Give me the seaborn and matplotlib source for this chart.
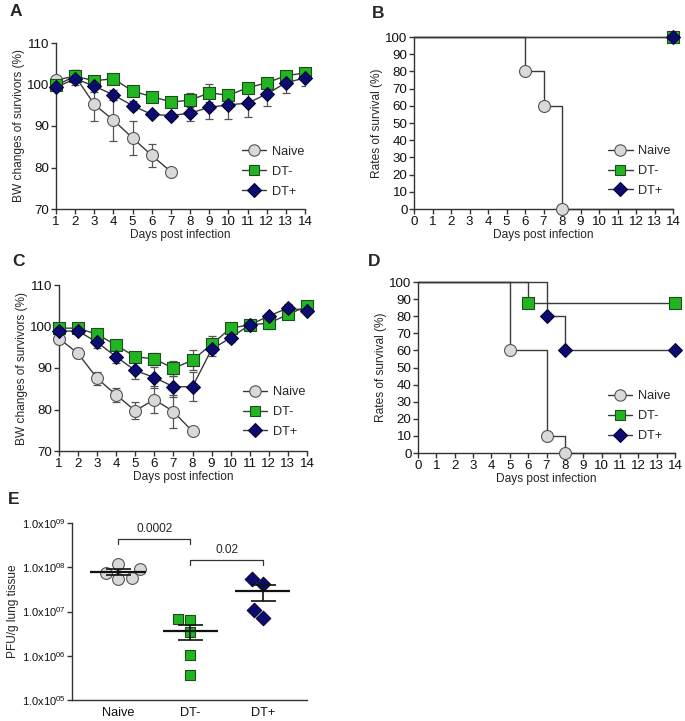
import numpy as np
import pandas as pd
import matplotlib
matplotlib.use("Agg")
import matplotlib.pyplot as plt
from matplotlib.lines import Line2D
import seaborn as sns

# ---------------- data ----------------
groups = ["Naive", "DT-", "DT+"]

# Panel A: body weight (%) of survivors
days_A_naive = [1, 2, 3, 4, 5, 6, 7]
bw_A_naive = [101.1, 102.0, 95.2, 91.4, 87.1, 82.9, 79.0]
err_A_naive = [0.8, 1.5, 3.9, 4.9, 4.1, 2.7, 0.8]
days_A = list(range(1, 15))
bw_A_dtm = [99.8, 102.0, 100.9, 101.4, 98.4, 97.1, 95.8, 96.2, 98.0, 97.4, 99.2, 100.4, 102.1, 102.8]
err_A_dtm = [0.8, 1.5, 0.6, 0.6, 0.8, 1.2, 0.6, 1.7, 2.1, 1.0, 0.6, 0.6, 1.0, 0.8]
bw_A_dtp = [99.3, 101.4, 99.6, 97.5, 94.9, 92.8, 92.5, 93.1, 94.5, 95.1, 95.5, 97.7, 100.4, 101.6]
err_A_dtp = [0.6, 1.5, 1.4, 1.2, 1.1, 0.5, 0.5, 1.8, 2.8, 3.4, 3.3, 3.0, 2.4, 2.0]

# Panel C: body weight (%) of survivors
days_C_naive = [1, 2, 3, 4, 5, 6, 7, 8]
bw_C_naive = [97.1, 93.5, 87.5, 83.5, 79.7, 82.4, 79.5, 74.7]
err_C_naive = [0.6, 1.2, 1.6, 1.6, 2.0, 3.3, 4.0, 0.0]
days_C = list(range(1, 15))
bw_C_dtm = [99.6, 99.6, 98.1, 95.5, 92.7, 92.2, 89.9, 91.9, 95.7, 99.6, 100.4, 100.8, 102.9, 104.9]
err_C_dtm = [0.6, 0.6, 0.8, 0.8, 1.0, 1.5, 1.8, 2.4, 2.0, 1.2, 1.2, 1.5, 1.0, 0.5]
bw_C_dtp = [98.9, 98.9, 96.2, 92.7, 89.4, 87.7, 85.5, 85.5, 94.5, 97.3, 100.4, 102.5, 104.5, 103.8]
err_C_dtp = [0.6, 0.6, 1.4, 1.6, 2.0, 2.6, 2.5, 3.5, 1.5, 1.0, 1.0, 0.5, 1.0, 0.5]

# Panel B: survival (%)
surv_B_t = {"Naive": [0, 6, 7, 8, 14], "DT-": [0, 14], "DT+": [0, 14]}
surv_B_s = {"Naive": [100, 80, 60, 0, 0], "DT-": [100, 100], "DT+": [100, 100]}
ev_B_t = {"Naive": [6, 7, 8], "DT-": [14], "DT+": [14]}
ev_B_s = {"Naive": [80, 60, 0], "DT-": [100], "DT+": [100]}

# Panel D: survival (%)
surv_D_t = {"Naive": [0, 5, 7, 8, 14], "DT-": [0, 6, 14], "DT+": [0, 7, 8, 14]}
surv_D_s = {"Naive": [100, 60, 10, 0, 0], "DT-": [100, 87.5, 87.5], "DT+": [100, 80, 60, 60]}
ev_D_t = {"Naive": [5, 7, 8], "DT-": [6, 14], "DT+": [7, 8, 14]}
ev_D_s = {"Naive": [60, 10, 0], "DT-": [87.5, 87.5], "DT+": [80, 60, 60]}

# Panel E: PFU/g lung tissue
pfu_naive = [7.3e7, 1.19e8, 5.5e7, 5.6e7, 9.3e7]
pfu_dtm = [6.8e6, 6.5e6, 3.36e6, 1.05e6, 3.7e5]
pfu_dtp = [5.46e7, 4.1e7, 7.3e6, 1.1e7]
comparisons = [(0, 1, "0.0002", 4.3e8, 3.4e8), (1, 2, "0.02", 1.46e8, 1.13e8)]
e_ticks = [1e5, 1e6, 1e7, 1e8, 1e9]
e_ticklabels = [r"1.0x10$^{05}$", r"1.0x10$^{06}$", r"1.0x10$^{07}$",
                r"1.0x10$^{08}$", r"1.0x10$^{09}$"]

# ---------------- style ----------------
sns.set_theme(style="ticks")
plt.rcParams["font.family"] = ["Liberation Sans", "DejaVu Sans"]
plt.rcParams["mathtext.fontset"] = "custom"
plt.rcParams["mathtext.rm"] = "Liberation Sans"
plt.rcParams["mathtext.it"] = "Liberation Sans:italic"
plt.rcParams["mathtext.bf"] = "Liberation Sans:bold"

face = {"Naive": "#d9d9d9", "DT-": "#22b522", "DT+": "#0b0b70"}
edge = {"Naive": "#555555", "DT-": "#1c4d1c", "DT+": "#05053a"}
mark = {"Naive": "o", "DT-": "s", "DT+": "D"}
msize = {"Naive": 74, "DT-": 64, "DT+": 50}
lgsize = {"Naive": 8.2, "DT-": 7.7, "DT+": 6.8}
swsize = {"Naive": 8.5, "DT-": 7.8, "DT+": 7.4}
LINE = "#3a3a3a"
TICKFS = 9.6
LABFS = 8.6

W, H = 685, 721
fig = plt.figure(figsize=(W / 100, H / 100), dpi=100)


def rect(l, r, t, b):
    return [l / W, 1 - b / H, (r - l) / W, (b - t) / H]


def style_ax(ax):
    sns.despine(ax=ax)
    for s in ("left", "bottom"):
        ax.spines[s].set_color("#333333")
        ax.spines[s].set_linewidth(1.0)
    ax.tick_params(direction="out", length=3.5, width=1.0, color="#333333",
                   labelsize=TICKFS, pad=1.2, labelcolor="#111111")


def legend(ax, x0, yc):
    handles = [Line2D([0], [0], color=LINE, lw=1, marker=mark[g], markersize=lgsize[g],
                      markerfacecolor=face[g], markeredgecolor=edge[g], markeredgewidth=0.8)
               for g in groups]
    ax.legend(handles, groups, loc="center left", bbox_to_anchor=(x0, yc), frameon=False,
              fontsize=LABFS + 0.6, handlelength=1.9, handletextpad=0.45, labelspacing=0.62,
              borderpad=0, borderaxespad=0)


def bw_panel(ax, series, xlim):
    frames = []
    for g, d, v, e in series:
        frames.append(pd.DataFrame({"day": d, "bw": v, "err": e, "group": g}))
    df = pd.concat(frames, ignore_index=True)
    sns.lineplot(data=df, x="day", y="bw", units="group", estimator=None, color=LINE,
                 lw=1.0, ax=ax, zorder=2, legend=False)
    for g in groups:
        sub = df[df.group == g]
        ax.errorbar(sub.day, sub.bw, yerr=sub.err, fmt="none", ecolor="#555555",
                    elinewidth=0.9, capsize=3, capthick=0.9, zorder=1)
    for i, g in enumerate(groups):
        sub = df[df.group == g]
        sns.scatterplot(data=sub, x="day", y="bw", marker=mark[g], s=msize[g], color=face[g],
                        edgecolor=edge[g], linewidth=0.8, ax=ax, zorder=3 + i, clip_on=False,
                        legend=False)
    ax.set_xlim(*xlim)
    ax.set_ylim(70, 110)
    ax.set_xticks(range(1, 15))
    ax.set_yticks([70, 80, 90, 100, 110])
    ax.set_xlabel("Days post infection", fontsize=LABFS, labelpad=1)
    ax.set_ylabel("BW changes of survivors (%)", fontsize=LABFS, labelpad=1.5)
    style_ax(ax)


def surv_panel(ax, st, ss, et, es, ylabel):
    for g in groups:
        ax.step(st[g], ss[g], where="post", color=LINE, lw=1.0, zorder=2, clip_on=False)
    for i, g in enumerate(groups):
        df = pd.DataFrame({"t": et[g], "s": es[g]})
        sns.scatterplot(data=df, x="t", y="s", marker=mark[g], s=msize[g], color=face[g],
                        edgecolor=edge[g], linewidth=0.8, ax=ax, zorder=3 + i, clip_on=False,
                        legend=False)
    ax.set_xlim(0, 14)
    ax.set_ylim(0, 100)
    ax.set_xticks(range(0, 15))
    ax.set_yticks(range(0, 101, 10))
    ax.set_xlabel("Days post infection", fontsize=LABFS, labelpad=1)
    ax.set_ylabel(ylabel, fontsize=LABFS, labelpad=1.5)
    style_ax(ax)


# ---------------- A ----------------
axA = fig.add_axes(rect(56, 305, 43, 209))
bw_panel(axA, [("Naive", days_A_naive, bw_A_naive, err_A_naive),
               ("DT-", days_A, bw_A_dtm, err_A_dtm),
               ("DT+", days_A, bw_A_dtp, err_A_dtp)], (1, 14))
legend(axA, 0.745, 0.225)

# ---------------- B ----------------
axB = fig.add_axes(rect(414, 673, 37, 209))
surv_panel(axB, surv_B_t, surv_B_s, ev_B_t, ev_B_s, "Rates of survival (%)")
legend(axB, 0.75, 0.221)

# ---------------- C ----------------
axC = fig.add_axes(rect(59, 307, 285, 451))
bw_panel(axC, [("Naive", days_C_naive, bw_C_naive, err_C_naive),
               ("DT-", days_C, bw_C_dtm, err_C_dtm),
               ("DT+", days_C, bw_C_dtp, err_C_dtp)], (1, 14))
legend(axC, 0.742, 0.235)

# ---------------- D ----------------
axD = fig.add_axes(rect(418, 675, 282, 453))
surv_panel(axD, surv_D_t, surv_D_s, ev_D_t, ev_D_s, "Rates of survival (%)")
legend(axD, 0.739, 0.216)

# ---------------- E ----------------
axE = fig.add_axes(rect(72, 307, 523, 700))
axE.set_yscale("log")
dfE = pd.concat([pd.DataFrame({"group": g, "pfu": v})
                 for g, v in zip(groups, [pfu_naive, pfu_dtm, pfu_dtp])], ignore_index=True)
for i, g in enumerate(groups):
    sub = dfE[dfE.group == g]
    sns.swarmplot(data=sub, x="group", y="pfu", order=groups, ax=axE, log_scale=True,
                  marker=mark[g], size=swsize[g], color=face[g],
                  linewidth=0.8, edgecolor=edge[g], zorder=3)
    vals = sub.pfu.to_numpy()
    m = vals.mean()
    se = vals.std(ddof=1) / np.sqrt(len(vals))
    axE.errorbar([i], [m], yerr=[se], fmt="none", ecolor="#111111", elinewidth=1.2,
                 capsize=9, capthick=1.2, zorder=4)
    axE.hlines(m, i - 0.38, i + 0.38, color="#111111", lw=1.6, zorder=4)
axE.set_xlim(-0.635, 2.61)
axE.set_ylim(1e5, 1e9)
axE.set_yticks(e_ticks)
axE.set_yticklabels(e_ticklabels)
axE.yaxis.set_minor_locator(matplotlib.ticker.NullLocator())
axE.set_xlabel("")
axE.set_ylabel("PFU/g lung tissue", fontsize=LABFS, labelpad=2)
style_ax(axE)
axE.tick_params(axis="y", labelsize=8.0)
axE.tick_params(axis="x", length=0, labelsize=LABFS + 0.6, pad=5)
for a, b, txt, top, foot in comparisons:
    axE.plot([a, a, b, b], [foot, top, top, foot], color="#333333", lw=0.9, zorder=2)
    axE.text((a + b) / 2, top * 1.25, txt, ha="center", va="bottom", fontsize=LABFS)

# ---------------- panel letters ----------------
for letter, x, y in [("A", 10, 12), ("B", 372, 13), ("C", 12, 261), ("D", 368, 261), ("E", 8, 500)]:
    fig.text(x / W, 1 - y / H, letter, fontsize=12.5, fontweight="bold", va="center", ha="left")

fig.savefig("out.png", dpi=100)
